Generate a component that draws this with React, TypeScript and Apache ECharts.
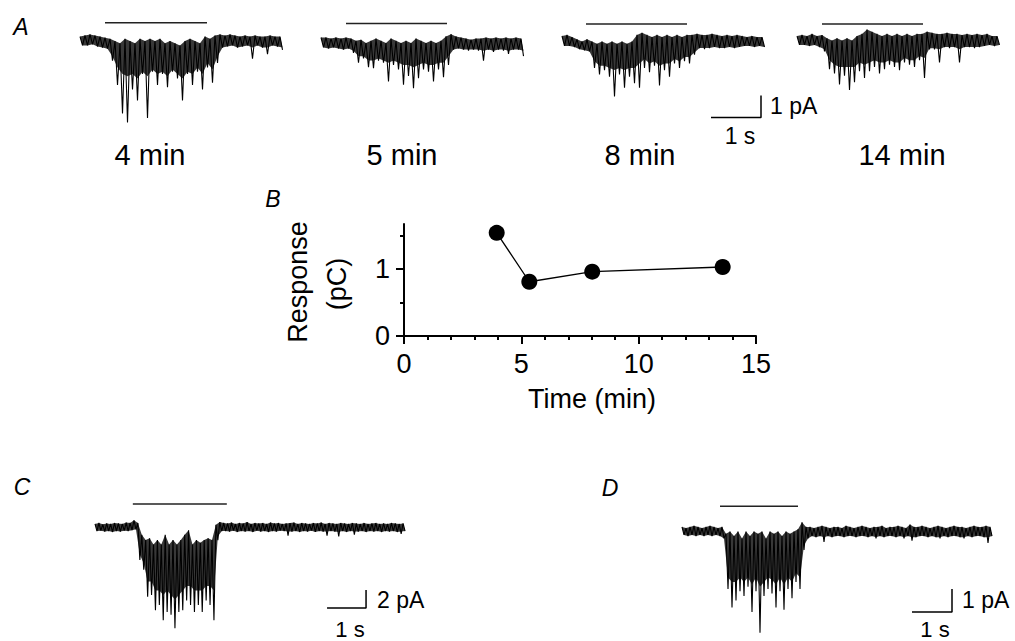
import React, { useEffect, useRef } from "react";
import * as echarts from "echarts";

// ---------- DATA ----------
// Current traces, per 0.1 s bin, in pA relative to baseline:
// HI = upper edge, LO = lowest excursion (spike tips), CORE = lower edge of the dense part of the trace
const DT = 0.1;

const A1_HI = [0.2,0.25,0.3,0.25,0.2,0.15,0.1,0.0,-0.1,0.1,0.0,-0.1,0.1,0.0,0.1,0.0,0.1,-0.1,0.0,-0.1,-0.2,0.0,0.1,0.0,-0.1,0.2,0.1,0.25,0.3,0.25,0.3,0.25,0.2,0.25,0.2,0.25,0.2,0.2,0.25,0.2,0.2];
const A1_LO = [-0.2,-0.2,-0.15,-0.25,-0.3,-0.35,-0.9,-2.0,-3.3,-3.7,-2.2,-2.7,-1.5,-3.5,-1.4,-2.0,-1.5,-2.1,-1.4,-1.7,-2.7,-1.5,-2.0,-1.4,-2.2,-1.2,-1.9,-1.0,-0.3,-0.25,-0.2,-0.3,-0.25,-0.2,-0.8,-0.2,-0.3,-0.6,-0.2,-0.25,-0.4];
const A1_CORE = [-0.2,-0.2,-0.15,-0.25,-0.3,-0.35,-0.7,-1.2,-1.5,-1.6,-1.5,-1.7,-1.4,-1.6,-1.3,-1.5,-1.4,-1.6,-1.3,-1.5,-1.7,-1.4,-1.5,-1.2,-1.5,-1.0,-1.3,-0.7,-0.3,-0.25,-0.2,-0.3,-0.25,-0.2,-0.3,-0.2,-0.3,-0.3,-0.2,-0.25,-0.3];

const A2_HI = [0.25,0.25,0.2,0.25,0.2,0.25,0.2,0.1,0.15,0.0,0.1,0.2,0.1,0.0,0.2,0.1,0.0,0.1,0.0,0.2,0.1,0.0,0.1,0.0,0.1,0.3,0.4,0.3,0.25,0.2,0.15,0.2,0.2,0.25,0.2,0.25,0.2,0.25,0.2,0.25,0.2];
const A2_LO = [-0.2,-0.25,-0.2,-0.25,-0.3,-0.25,-0.45,-0.9,-0.7,-1.1,-1.15,-0.8,-0.9,-1.75,-1.0,-1.2,-1.9,-1.5,-2.05,-1.6,-1.2,-1.3,-1.75,-1.2,-1.55,-1.0,-0.3,-0.25,-0.3,-0.35,-0.3,-0.35,-0.8,-0.3,-0.4,-0.3,-0.35,-0.5,-0.3,-0.3,-0.6];
const A2_CORE = [-0.2,-0.25,-0.2,-0.25,-0.3,-0.25,-0.35,-0.6,-0.6,-0.8,-0.8,-0.7,-0.8,-0.9,-0.8,-0.9,-1.0,-1.0,-1.1,-1.0,-0.9,-1.0,-1.0,-0.9,-0.9,-0.6,-0.3,-0.25,-0.3,-0.3,-0.3,-0.3,-0.35,-0.3,-0.35,-0.3,-0.3,-0.35,-0.3,-0.3,-0.35];

const A3_HI = [0.25,0.3,0.2,0.1,0.0,0.1,0.0,-0.1,0.0,-0.1,0.0,-0.1,0.0,-0.1,0.0,0.3,0.4,0.3,0.2,0.3,0.2,0.3,0.2,0.3,0.2,0.3,0.3,0.35,0.3,0.3,0.35,0.3,0.25,0.3,0.25,0.3,0.25,0.2,0.25,0.2,0.2];
const A3_LO = [-0.2,-0.2,-0.25,-0.35,-0.4,-0.45,-1.2,-1.5,-1.3,-1.6,-2.5,-1.5,-2.1,-1.6,-1.9,-2.1,-1.2,-1.4,-1.1,-2.0,-1.3,-1.6,-1.0,-1.2,-0.9,-1.0,-0.6,-0.3,-0.35,-0.3,-0.25,-0.3,-0.3,-0.25,-0.3,-0.25,-0.2,-0.2,-0.25,-0.2,-0.25];
const A3_CORE = [-0.2,-0.2,-0.25,-0.35,-0.4,-0.45,-0.9,-1.1,-1.1,-1.2,-1.3,-1.2,-1.3,-1.2,-1.2,-1.0,-0.8,-1.0,-0.9,-1.1,-1.0,-1.0,-0.8,-0.9,-0.7,-0.7,-0.5,-0.3,-0.3,-0.3,-0.25,-0.3,-0.3,-0.25,-0.3,-0.25,-0.2,-0.2,-0.25,-0.2,-0.25];

const A4_HI = [0.2,0.25,0.2,0.3,0.2,0.25,0.1,0.0,0.1,0.0,0.1,0.0,0.2,0.3,0.5,0.4,0.3,0.2,0.3,0.2,0.3,0.2,0.3,0.2,0.3,0.3,0.4,0.35,0.3,0.3,0.35,0.3,0.3,0.25,0.3,0.25,0.3,0.25,0.3,0.2,0.2];
const A4_LO = [-0.2,-0.2,-0.25,-0.2,-0.3,-0.5,-1.3,-1.5,-2.0,-1.6,-2.25,-1.9,-1.4,-1.7,-1.4,-1.2,-1.5,-1.3,-1.1,-1.2,-1.35,-1.0,-1.1,-1.2,-0.9,-1.7,-0.4,-0.4,-1.0,-0.3,-0.35,-0.3,-1.0,-0.3,-0.3,-0.35,-0.3,-0.25,-0.2,-0.25,-0.2];
const A4_CORE = [-0.2,-0.2,-0.25,-0.2,-0.3,-0.4,-0.9,-1.1,-1.2,-1.2,-1.2,-1.2,-1.0,-1.1,-1.0,-0.9,-1.0,-1.0,-0.9,-1.0,-1.0,-0.8,-0.9,-0.9,-0.7,-0.8,-0.35,-0.35,-0.4,-0.3,-0.3,-0.3,-0.4,-0.3,-0.3,-0.3,-0.3,-0.25,-0.2,-0.25,-0.2];

const C_HI = [
  0.4,0.5,0.35,0.45,0.4,0.5,0.45,0.4,0.55,0.5,0.8,
  0.5,-0.8,-1.4,-1.2,-1.9,-1.4,-1.9,-0.8,-1.9,-1.4,-1.9,-1.4,-0.8,-0.3,-1.9,-1.4,-1.7,-1.4,-1.2,-1.4,0.3,0.6,
  0.5,0.45,0.55,0.4,0.5,0.45,0.6,0.4,0.5,0.45,0.5,0.4,0.55,0.45,0.5,0.4,0.45,0.5,0.55,0.4,0.5,0.45,0.4,0.5,0.45,0.55,0.4,0.5,0.45,0.4,0.5,0.45,0.4,0.5,0.45,0.4,0.5,0.4,0.45,0.5,0.4,0.45,0.4,0.5,0.45,0.4,0.45,
];
const C_LO = [
  -0.4,-0.35,-0.45,-0.4,-0.5,-0.4,-0.45,-0.35,-0.4,-0.3,-0.2,
  -3.6,-4.7,-7.7,-7.5,-9.2,-8.6,-10.3,-9.4,-9.7,-11.2,-9.4,-9.2,-8.1,-8.6,-9.4,-8.6,-9.4,-8.1,-8.6,-10.3,-1.4,-0.4,
  -0.4,-0.45,-0.35,-0.5,-0.4,-0.45,-0.4,-0.5,-0.35,-0.45,-0.4,-0.5,-0.4,-0.45,-0.35,-0.4,-0.9,-0.45,-0.4,-0.5,-0.4,-0.45,-0.35,-0.5,-0.4,-0.45,-0.9,-0.4,-0.45,-1.0,-0.4,-0.5,-0.4,-0.8,-0.45,-0.4,-0.5,-0.4,-0.45,-0.4,-0.5,-0.4,-0.45,-0.4,-0.5,-0.7,-0.4,
];
const C_CORE = [
  -0.4,-0.35,-0.45,-0.4,-0.5,-0.4,-0.45,-0.35,-0.4,-0.3,-0.2,
  -3.0,-4.0,-6.0,-6.0,-7.0,-7.0,-7.5,-7.0,-7.5,-8.0,-7.5,-7.0,-6.5,-6.5,-7.0,-7.0,-7.0,-6.5,-6.5,-7.0,-1.0,-0.4,
  -0.4,-0.45,-0.35,-0.5,-0.4,-0.45,-0.4,-0.5,-0.35,-0.45,-0.4,-0.5,-0.4,-0.45,-0.35,-0.4,-0.45,-0.45,-0.4,-0.5,-0.4,-0.45,-0.35,-0.5,-0.4,-0.45,-0.45,-0.4,-0.45,-0.5,-0.4,-0.5,-0.4,-0.45,-0.45,-0.4,-0.5,-0.4,-0.45,-0.4,-0.5,-0.4,-0.45,-0.4,-0.5,-0.45,-0.4,
];

const D_HI = [
  0.2,0.15,0.2,0.25,0.2,0.15,0.2,0.25,0.2,0.15,0.2,
  -0.1,0.0,-0.2,0.0,-0.3,0.0,-0.2,0.0,-0.1,0.0,-0.3,0.0,-0.1,0.0,-0.2,0.0,-0.1,0.0,0.1,0.4,0.2,
  0.2,0.15,0.2,0.25,0.2,0.15,0.2,0.2,0.15,0.25,0.2,0.15,0.2,0.25,0.2,0.15,0.2,0.2,0.25,0.15,0.2,0.2,0.25,0.2,0.15,0.3,0.2,0.2,0.25,0.2,0.15,0.2,0.25,0.2,0.15,0.2,0.25,0.2,0.2,0.15,0.2,0.25,0.2,0.2,0.25,0.2,
];
const D_LO = [
  -0.15,-0.2,-0.15,-0.2,-0.15,-0.2,-0.15,-0.2,-0.15,-0.2,-0.3,
  -2.5,-3.3,-3.0,-2.6,-2.8,-2.4,-3.5,-2.6,-4.4,-2.8,-2.5,-2.7,-3.3,-2.6,-3.4,-2.5,-2.9,-2.2,-2.5,-0.8,-0.3,
  -0.2,-0.25,-0.2,-0.45,-0.2,-0.25,-0.2,-0.2,-0.25,-0.2,-0.2,-0.25,-0.2,-0.2,-0.25,-0.2,-0.3,-0.2,-0.25,-0.2,-0.2,-0.25,-0.2,-0.3,-0.2,-0.4,-0.25,-0.2,-0.2,-0.25,-0.2,-0.25,-0.3,-0.2,-0.25,-0.2,-0.2,-0.25,-0.3,-0.2,-0.25,-0.2,-0.2,-0.25,-0.5,-0.2,
];
const D_CORE = [
  -0.15,-0.2,-0.15,-0.2,-0.15,-0.2,-0.15,-0.2,-0.15,-0.2,-0.3,
  -2.0,-2.2,-2.2,-2.0,-2.2,-2.0,-2.3,-2.0,-2.4,-2.2,-2.0,-2.1,-2.3,-2.0,-2.3,-2.0,-2.2,-1.8,-2.0,-0.6,-0.3,
  -0.2,-0.25,-0.2,-0.25,-0.2,-0.25,-0.2,-0.2,-0.25,-0.2,-0.2,-0.25,-0.2,-0.2,-0.25,-0.2,-0.25,-0.2,-0.25,-0.2,-0.2,-0.25,-0.2,-0.25,-0.2,-0.25,-0.25,-0.2,-0.2,-0.25,-0.2,-0.25,-0.25,-0.2,-0.25,-0.2,-0.2,-0.25,-0.25,-0.2,-0.25,-0.2,-0.2,-0.25,-0.25,-0.2,
];

// Stimulus bars (s) and their level (pA above baseline), per trace A1..A4, C, D
const STIM_START = [0.5, 0.5, 0.48, 0.5, 0.97, 0.95];
const STIM_END = [2.54, 2.52, 2.5, 2.52, 3.38, 2.9];
const STIM_LEVEL = [0.83, 0.89, 0.8, 0.75, 2.6, 1.1];

// Scale bars: [t start (s), y (pA), length s, height pA]
const SCALE_A = [2.98, -3.45, 1, 1];
const SCALE_C = [5.95, -8.95, 1, 2];
const SCALE_D = [5.75, -3.5, 1, 1];

const TRACE_LABELS = ["4 min", "5 min", "8 min", "14 min"];

// Panel B
const TIME_MIN = [3.95, 5.34, 8.02, 13.58];
const RESPONSE_PC = [1.54, 0.81, 0.96, 1.03];
const X_MAJOR = [0, 5, 10, 15];
const X_MINOR = [1, 2, 3, 4, 6, 7, 8, 9, 11, 12, 13, 14];
const Y_MAJOR = [0, 1];
const Y_MINOR = [0.5, 1.5];

// ---------- LAYOUT ----------
const FONT = "'Liberation Sans', Arial, Helvetica, sans-serif";
const TRACE_LAYOUT = [
  { left: 80, base: 41, pxS: 50, pxPA: 22, tMax: 4.06, yMin: -4, yMax: 1.3 },
  { left: 321, base: 43, pxS: 50, pxPA: 22, tMax: 4.06, yMin: -4, yMax: 1.3 },
  { left: 562, base: 41.5, pxS: 50, pxPA: 22, tMax: 4.06, yMin: -4, yMax: 1.3 },
  { left: 797, base: 40.5, pxS: 50, pxPA: 22, tMax: 4.06, yMin: -4, yMax: 1.3 },
  { left: 95, base: 527.5, pxS: 39, pxPA: 9, tMax: 8.0, yMin: -12.5, yMax: 3.2 },
  { left: 682, base: 531.5, pxS: 40, pxPA: 23, tMax: 7.8, yMin: -5, yMax: 1.5 },
];
const TRACES = [
  [A1_HI, A1_LO, A1_CORE],
  [A2_HI, A2_LO, A2_CORE],
  [A3_HI, A3_LO, A3_CORE],
  [A4_HI, A4_LO, A4_CORE],
  [C_HI, C_LO, C_CORE],
  [D_HI, D_LO, D_CORE],
];

function zigzag(hi: number[], lo: number[]) {
  const out: [number, number][] = [];
  const n = Math.min(hi.length, lo.length);
  for (let i = 0; i < n; i++) {
    out.push([i * DT, hi[i]]);
    out.push([i * DT + DT / 2, lo[i]]);
  }
  return out;
}

function scaleBar(s: number[]) {
  const [t, y, w, h] = s;
  return [[t, y], [t + w, y], [t + w, y + h]];
}

function text(t: string, x: number, y: number, size: number, opts: any = {}) {
  return {
    type: "text",
    x,
    y,
    rotation: opts.rotation || 0,
    style: {
      text: t,
      fontSize: size,
      fontFamily: FONT,
      fontStyle: opts.italic ? "italic" : "normal",
      fill: "#000",
      align: opts.align || "center",
      verticalAlign: "middle",
    },
  };
}

function buildOption() {
  const grid: any[] = [];
  const xAxis: any[] = [];
  const yAxis: any[] = [];
  const series: any[] = [];

  TRACE_LAYOUT.forEach((L, i) => {
    const [hi, lo, core] = TRACES[i];
    grid.push({
      left: L.left,
      top: L.base - L.yMax * L.pxPA,
      width: L.tMax * L.pxS,
      height: (L.yMax - L.yMin) * L.pxPA,
      containLabel: false,
      outerBoundsMode: "none",
    });
    xAxis.push({ type: "value", gridIndex: i, min: 0, max: L.tMax, show: false });
    yAxis.push({ type: "value", gridIndex: i, min: L.yMin, max: L.yMax, show: false });
    // dense part of the trace
    series.push({
      type: "custom",
      xAxisIndex: i,
      yAxisIndex: i,
      data: [[0, 0]],
      silent: true,
      renderItem: (_p: any, api: any) => {
        const n = Math.min(hi.length, core.length);
        const up: number[][] = [];
        const dn: number[][] = [];
        for (let k = 0; k < n; k++) {
          up.push(api.coord([k * DT, hi[k]]));
          dn.push(api.coord([k * DT + DT / 2, core[k]]));
        }
        return {
          type: "polygon",
          shape: { points: up.concat(dn.reverse()) },
          style: { fill: "rgba(0,0,0,0.78)", stroke: "none" },
        };
      },
    });
    // excursions
    series.push({
      type: "line",
      xAxisIndex: i,
      yAxisIndex: i,
      data: zigzag(hi, lo),
      symbol: "none",
      lineStyle: { color: "#000", width: 1.1 },
      silent: true,
    });
    series.push({
      type: "line",
      xAxisIndex: i,
      yAxisIndex: i,
      data: [[STIM_START[i], STIM_LEVEL[i]], [STIM_END[i], STIM_LEVEL[i]]],
      symbol: "none",
      lineStyle: { color: "#222", width: 1.5 },
      silent: true,
    });
  });

  // scale bars
  [[2, SCALE_A], [4, SCALE_C], [5, SCALE_D]].forEach(([gi, s]: any) => {
    series.push({
      type: "line",
      xAxisIndex: gi,
      yAxisIndex: gi,
      data: scaleBar(s),
      symbol: "none",
      lineStyle: { color: "#000", width: 1.5 },
      silent: true,
    });
  });

  // Panel B
  const bi = TRACE_LAYOUT.length;
  grid.push({ left: 404, top: 224, width: 352, height: 112, containLabel: false, outerBoundsMode: "none" });
  const axisStyle = { color: "#000", width: 2 };
  xAxis.push({
    type: "value",
    gridIndex: bi,
    min: 0,
    max: 15,
    position: "bottom",
    axisLine: { show: true, onZero: false, lineStyle: axisStyle },
    axisTick: { show: true, customValues: X_MAJOR, length: 8, lineStyle: axisStyle },
    axisLabel: { show: true, customValues: X_MAJOR, fontSize: 27, fontFamily: FONT, color: "#000", margin: 14 },
    splitLine: { show: false },
  });
  xAxis.push({
    type: "value",
    gridIndex: bi,
    min: 0,
    max: 15,
    position: "bottom",
    axisLine: { show: false },
    axisTick: { show: true, customValues: X_MINOR, length: 4, lineStyle: axisStyle },
    axisLabel: { show: false },
    splitLine: { show: false },
  });
  yAxis.push({
    type: "value",
    gridIndex: bi,
    min: 0,
    max: 1.672,
    position: "left",
    axisLine: { show: true, onZero: false, lineStyle: axisStyle },
    axisTick: { show: true, customValues: Y_MAJOR, length: 8, lineStyle: axisStyle },
    axisLabel: { show: true, customValues: Y_MAJOR, fontSize: 27, fontFamily: FONT, color: "#000", margin: 14 },
    splitLine: { show: false },
  });
  yAxis.push({
    type: "value",
    gridIndex: bi,
    min: 0,
    max: 1.672,
    position: "left",
    offset: 0,
    axisLine: { show: false },
    axisTick: { show: true, customValues: Y_MINOR, length: 4, lineStyle: axisStyle },
    axisLabel: { show: false },
    splitLine: { show: false },
  });
  series.push({
    type: "line",
    xAxisIndex: bi,
    yAxisIndex: bi,
    data: TIME_MIN.map((t, k) => [t, RESPONSE_PC[k]]),
    symbol: "circle",
    symbolSize: 16,
    itemStyle: { color: "#000" },
    lineStyle: { color: "#000", width: 1.3 },
    z: 5,
  });

  const graphic = [
    text("A", 21, 27, 23, { italic: true }),
    text("B", 273, 199, 23, { italic: true }),
    text("C", 22, 487, 23, { italic: true }),
    text("D", 610, 488, 23, { italic: true }),
    text(TRACE_LABELS[0], 150, 155, 29),
    text(TRACE_LABELS[1], 402, 155, 29),
    text(TRACE_LABELS[2], 640, 155, 29),
    text(TRACE_LABELS[3], 902, 155, 29),
    text("1 pA", 770, 106, 23, { align: "left" }),
    text("1 s", 740, 136, 23),
    text("2 pA", 377, 600, 23, { align: "left" }),
    text("1 s", 350, 629, 22),
    text("1 pA", 962, 600, 23, { align: "left" }),
    text("1 s", 935, 629, 22),
    text("Time (min)", 592, 399, 27),
    text("Response", 298, 282, 27, { rotation: Math.PI / 2 }),
    text("(pC)", 337, 284, 27, { rotation: Math.PI / 2 }),
  ];

  return {
    animation: false,
    backgroundColor: "#fff",
    grid,
    xAxis,
    yAxis,
    series,
    graphic,
  };
}

export default function App() {
  const ref = useRef<HTMLDivElement>(null);
  useEffect(() => {
    const chart = echarts.init(ref.current as HTMLDivElement, null, { renderer: "svg" });
    chart.setOption(buildOption() as any);
    return () => chart.dispose();
  }, []);
  return (
    <div
      ref={ref}
      style={{ position: "absolute", left: 0, top: 0, width: 1015, height: 641, background: "#fff" }}
    />
  );
}
